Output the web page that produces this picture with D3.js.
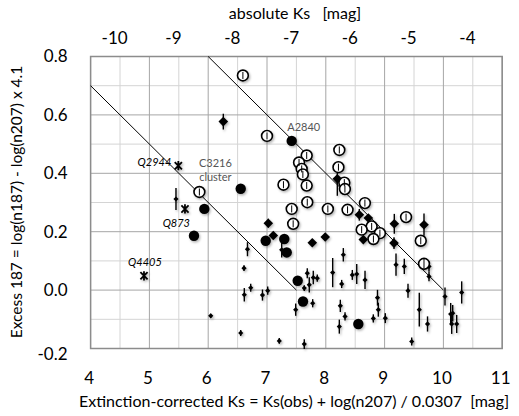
<!DOCTYPE html>
<html>
<head>
<meta charset="utf-8">
<script src="https://cdn.jsdelivr.net/npm/d3@7"></script>
<style>
  body { margin: 0; background: #fff; }
  text { font-family: Lato, "Open Sans", sans-serif; fill: #000; }
</style>
</head>
<body>
<div id="chart"></div>
<script>
// ---- data: [Ks, excess, error] ----
const openCircles = [
  [6.59, 0.735, 0.012], [7.00, 0.528, 0.012], [7.675, 0.461, 0.012], [7.545, 0.437, 0.012],
  [7.59, 0.415, 0.012], [7.61, 0.396, 0.012], [7.28, 0.361, 0.012], [7.675, 0.358, 0.012],
  [8.23, 0.480, 0.012], [8.215, 0.421, 0.012], [8.315, 0.368, 0.012], [8.325, 0.346, 0.012],
  [7.42, 0.278, 0.012], [7.685, 0.301, 0.012], [8.035, 0.278, 0.012], [8.37, 0.275, 0.012],
  [8.665, 0.298, 0.012], [7.445, 0.227, 0.012], [8.78, 0.218, 0.012], [8.61, 0.207, 0.012],
  [8.92, 0.195, 0.012], [8.81, 0.175, 0.012], [9.365, 0.250, 0.012], [9.615, 0.169, 0.012],
  [9.67, 0.090, 0.017], [5.85, 0.336, 0.012]
];

const filledCircles = [
  [7.42, 0.511], [6.553, 0.347], [5.934, 0.278], [5.758, 0.186], [6.978, 0.169],
  [7.294, 0.175], [7.335, 0.129], [7.522, 0.032], [7.612, -0.039], [8.553, -0.116]
];

const diamonds = [
  [6.257, 0.577, 0.027], [7.022, 0.229, 0.015], [7.107, 0.187, 0.008], [7.77, 0.162, 0.008],
  [7.99, 0.182, 0.008], [8.196, 0.381, 0.058], [8.57, 0.258, 0.02], [8.723, 0.247, 0.01],
  [8.638, 0.173, 0.01], [8.87, 0.183, 0.01], [9.165, 0.227, 0.034], [9.67, 0.224, 0.038],
  [9.16, 0.161, 0.02]
];

const smallPoints = [
  [5.452, 0.312, 0.038], [6.668, 0.140, 0.024], [6.609, 0.075, 0.010], [6.614, -0.016, 0.023],
  [6.723, 0.008, 0.014], [6.923, -0.017, 0.019], [7.012, -0.002, 0.014], [6.043, -0.088, 0.007],
  [6.553, -0.147, 0.010], [7.209, -0.174, 0.010], [7.250, 0.138, 0.026], [7.685, 0.058, 0.017],
  [7.634, 0.007, 0.010], [7.719, 0.018, 0.026], [7.787, 0.043, 0.023], [7.855, 0.041, 0.012],
  [7.777, -0.045, 0.014], [7.488, -0.067, 0.021], [8.117, 0.060, 0.050], [8.298, 0.121, 0.023],
  [8.270, 0.021, 0.014], [8.247, -0.054, 0.021], [8.327, -0.090, 0.014], [8.230, -0.125, 0.024],
  [8.451, 0.052, 0.017], [8.526, 0.055, 0.034], [8.667, 0.035, 0.031], [7.634, -0.185, 0.017],
  [8.879, -0.026, 0.027], [8.893, -0.067, 0.024], [8.808, -0.097, 0.014], [9.012, -0.096, 0.017],
  [9.194, 0.087, 0.038], [9.335, 0.081, 0.026], [9.398, -0.002, 0.024], [9.590, -0.067, 0.058],
  [9.730, -0.116, 0.026], [9.461, -0.176, 0.014], [9.755, 0.081, 0.017], [9.755, 0.047, 0.017],
  [10.027, -0.022, 0.031], [10.311, -0.008, 0.038], [10.124, -0.082, 0.038], [10.158, -0.079, 0.028],
  [10.141, -0.116, 0.034], [10.226, -0.116, 0.031]
];

const starNames = ["Q2944", "Q873", "Q4405"];
const starKs = [5.492, 5.605, 4.908];
const starExcess = [0.426, 0.278, 0.049];

// the two sloped guide lines
const guideA = [[4, 0.7], [7.5, 0]];
const guideB = [[6, 0.8], [10, 0]];

const xTicks = [4, 5, 6, 7, 8, 9, 10, 11];
const xMinor = [4.5, 5.5, 6.5, 7.5, 8.5, 9.5, 10.5];
const yTicks = [-0.2, 0, 0.2, 0.4, 0.6, 0.8];
const yMinor = [-0.1, 0.1, 0.3, 0.5, 0.7];
const topTicks = [-10, -9, -8, -7, -6, -5, -4];
const distModulus = 14.4; // absolute Ks = Ks - modulus

// ---- setup ----
const width = 519, height = 416;
const svg = d3.select("#chart").append("svg")
  .attr("width", width)
  .attr("height", height);

const x = d3.scaleLinear().domain([4, 11]).range([90.6, 502.2]);
const y = d3.scaleLinear().domain([-0.2, 0.8]).range([348.5, 56.5]);
const xTop = d3.scaleLinear().domain([4 - distModulus, 11 - distModulus]).range(x.range());

// soft Excel-like shadow under markers
const defs = svg.append("defs");
defs.append("filter").attr("id", "shadow")
  .attr("x", "-50%").attr("y", "-50%").attr("width", "200%").attr("height", "200%")
  .append("feDropShadow")
  .attr("dx", 1.2).attr("dy", 1.5).attr("stdDeviation", 0.9)
  .attr("flood-color", "#000").attr("flood-opacity", 0.3);

// ---- grid ----
const grid = svg.append("g");
grid.selectAll(".vminor").data(xMinor).join("line")
  .attr("x1", d => x(d)).attr("x2", d => x(d))
  .attr("y1", y(0.8)).attr("y2", y(-0.2))
  .attr("stroke", "#d4d4d4").attr("stroke-width", 1);
grid.selectAll(".hminor").data(yMinor).join("line")
  .attr("x1", x(4)).attr("x2", x(11))
  .attr("y1", d => y(d)).attr("y2", d => y(d))
  .attr("stroke", "#d4d4d4").attr("stroke-width", 1);
grid.selectAll(".vmajor").data(xTicks).join("line")
  .attr("x1", d => x(d)).attr("x2", d => x(d))
  .attr("y1", y(0.8)).attr("y2", y(-0.2))
  .attr("stroke", "#a6a6a6").attr("stroke-width", 1);
grid.selectAll(".hmajor").data(yTicks).join("line")
  .attr("x1", x(4)).attr("x2", x(11))
  .attr("y1", d => y(d)).attr("y2", d => y(d))
  .attr("stroke", "#a6a6a6").attr("stroke-width", 1);

// frame
svg.append("rect")
  .attr("x", x(4)).attr("y", y(0.8))
  .attr("width", x(11) - x(4)).attr("height", y(-0.2) - y(0.8))
  .attr("fill", "none").attr("stroke", "#8c8c8c").attr("stroke-width", 1.5);

// ---- axes (labels only) ----
const bottomAxis = svg.append("g")
  .attr("transform", `translate(-2,${y(-0.2)})`)
  .call(d3.axisBottom(x).tickValues(xTicks).tickSize(0).tickPadding(23).tickFormat(d => d));
const leftAxis = svg.append("g")
  .attr("transform", `translate(${x(4) - 17},0)`)
  .call(d3.axisLeft(y).tickValues(yTicks).tickSize(0).tickPadding(6)
    .tickFormat(d => d.toFixed(1).replace("−", "-")));
const topAxis = svg.append("g")
  .attr("transform", `translate(0,${y(0.8) - 9})`)
  .call(d3.axisTop(xTop).tickValues(topTicks).tickSize(0).tickPadding(4)
    .tickFormat(d => String(d)));

[bottomAxis, leftAxis, topAxis].forEach(g => {
  g.select(".domain").remove();
  g.selectAll("text").style("font-size", "17px").attr("fill", "#000");
});
leftAxis.selectAll(".tick").filter(d => d === -0.2).select("text").attr("dy", "0.62em");

// axis titles
svg.append("text")
  .attr("x", 294).attr("y", 407)
  .attr("text-anchor", "middle").style("font-size", "16px")
  .attr("xml:space", "preserve")
  .text("Extinction-corrected Ks = Ks(obs) + log(n207) / 0.0307  [mag]");
svg.append("text")
  .attr("x", 295).attr("y", 19)
  .attr("text-anchor", "middle").style("font-size", "16px")
  .attr("xml:space", "preserve")
  .text("absolute Ks   [mag]");
svg.append("text")
  .attr("transform", "translate(22,202) rotate(-90)")
  .attr("text-anchor", "middle").style("font-size", "15.5px")
  .text("Excess 187 = log(n187) - log(n207) x 4.1");

// ---- guide lines ----
const line = d3.line().x(d => x(d[0])).y(d => y(d[1]));
[guideA, guideB].forEach(g => {
  svg.append("path").attr("d", line(g))
    .attr("fill", "none").attr("stroke", "#000").attr("stroke-width", 1);
});

const marks = svg.append("g").attr("filter", "url(#shadow)");

function diamondPath(cx, cy, r) {
  return `M${cx},${cy - r}L${cx + r},${cy}L${cx},${cy + r}L${cx - r},${cy}Z`;
}

// ---- small points with error bars ----
const small = marks.append("g");
small.selectAll("line").data(smallPoints).join("line")
  .attr("x1", d => x(d[0])).attr("x2", d => x(d[0]))
  .attr("y1", d => y(d[1] + d[2])).attr("y2", d => y(d[1] - d[2]))
  .attr("stroke", "#000").attr("stroke-width", 1.4);
small.selectAll("path").data(smallPoints).join("path")
  .attr("d", d => diamondPath(x(d[0]), y(d[1]), 2.6))
  .attr("fill", "#000");

// ---- diamonds ----
const dia = marks.append("g");
dia.selectAll("line").data(diamonds).join("line")
  .attr("x1", d => x(d[0])).attr("x2", d => x(d[0]))
  .attr("y1", d => y(d[1] + d[2])).attr("y2", d => y(d[1] - d[2]))
  .attr("stroke", "#000").attr("stroke-width", 1.4);
dia.selectAll("path").data(diamonds).join("path")
  .attr("d", d => diamondPath(x(d[0]), y(d[1]), 4.8))
  .attr("fill", "#000");

// ---- filled circles ----
marks.append("g").selectAll("circle").data(filledCircles).join("circle")
  .attr("cx", d => x(d[0])).attr("cy", d => y(d[1]))
  .attr("r", 5.2).attr("fill", "#000");

// ---- open circles with error bars ----
const open = marks.append("g");
open.selectAll("circle").data(openCircles).join("circle")
  .attr("cx", d => x(d[0])).attr("cy", d => y(d[1]))
  .attr("r", 5.4).attr("fill", "#fff")
  .attr("stroke", "#000").attr("stroke-width", 1.6);
open.selectAll("line").data(openCircles).join("line")
  .attr("x1", d => x(d[0])).attr("x2", d => x(d[0]))
  .attr("y1", d => y(d[1] + d[2])).attr("y2", d => y(d[1] - d[2]))
  .attr("stroke", "#000").attr("stroke-width", 1);

// ---- star markers (X + vertical bar) ----
const stars = marks.append("g").selectAll("g").data(starNames).join("g")
  .attr("transform", (d, i) => `translate(${x(starKs[i])},${y(starExcess[i])})`);
stars.append("path")
  .attr("d", "M-3.6,-3.6L3.6,3.6M-3.6,3.6L3.6,-3.6M0,-4.6L0,4.6")
  .attr("stroke", "#000").attr("stroke-width", 1.8).attr("fill", "none");

// ---- labels ----
const starLabelPos = {
  Q2944: { dx: -7, dy: 0, anchor: "end" },
  Q873: { dx: 5, dy: 18, anchor: "end" },
  Q4405: { dx: 1, dy: -10, anchor: "middle" }
};
svg.append("g").selectAll("text").data(starNames).join("text")
  .attr("x", (d, i) => x(starKs[i]) + starLabelPos[d].dx)
  .attr("y", (d, i) => y(starExcess[i]) + starLabelPos[d].dy)
  .attr("text-anchor", d => starLabelPos[d].anchor)
  .style("font-size", "11px").style("font-style", "italic")
  .text(d => d);

svg.append("text")
  .attr("x", x(filledCircles[0][0]) + 12).attr("y", y(filledCircles[0][1]) - 10)
  .attr("text-anchor", "middle").style("font-size", "11px")
  .style("fill", "#555").text("A2840");

const cluster = svg.append("text")
  .attr("text-anchor", "middle").style("font-size", "11px").style("fill", "#555");
cluster.append("tspan")
  .attr("x", x(openCircles[25][0]) + 16).attr("y", y(openCircles[25][1]) - 25)
  .text("C3216");
cluster.append("tspan")
  .attr("x", x(openCircles[25][0]) + 16).attr("y", y(openCircles[25][1]) - 11)
  .text("cluster");
</script>
</body>
</html>
